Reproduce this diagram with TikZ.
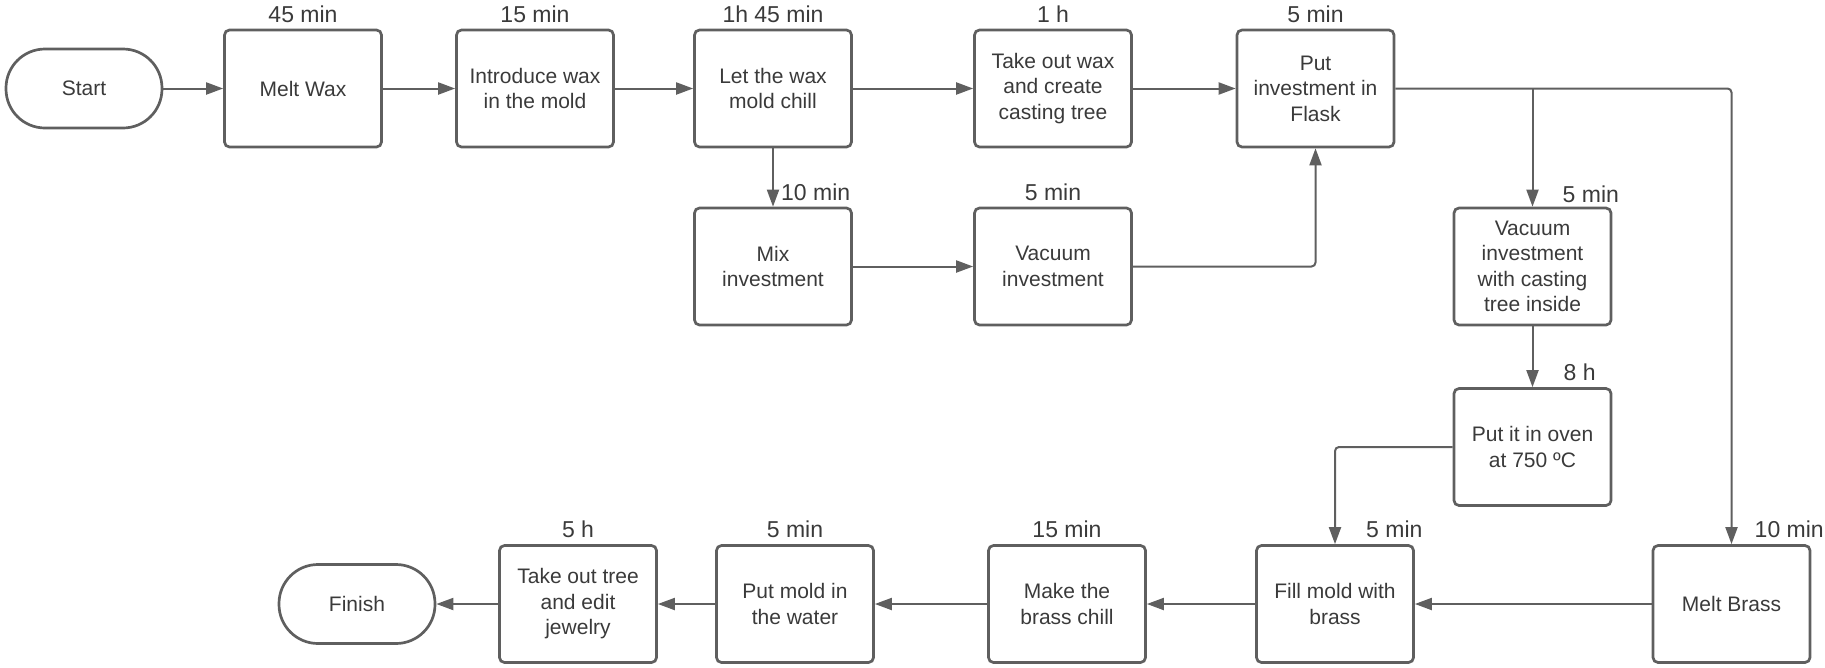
\documentclass[tikz,border=0pt]{standalone}
\usepackage{fontspec}
\setmainfont{Liberation Sans}
\usetikzlibrary{arrows.meta,positioning,calc}
\definecolor{lgray}{RGB}{95,95,95}
\definecolor{tgray}{RGB}{58,58,58}

\begin{document}
\begin{tikzpicture}[
  x=1pt, y=-1pt,
  >={Triangle[length=17pt,width=12pt]},
  every node/.style={align=center},
  base/.style   = {draw=lgray, line width=2.7pt, rounded corners=5pt, text=tgray,
                   inner sep=2pt, font=\fontsize{21}{25.5}\selectfont},
  procnd/.style = {base, minimum width=157pt, minimum height=117pt},
  termnd/.style = {base, rounded corners=39pt, minimum width=156pt, minimum height=79pt},
  tlab/.style   = {text=tgray, inner sep=1pt, font=\fontsize{23}{27}\selectfont},
  conn/.style   = {draw=lgray, line width=2pt, ->, rounded corners=4pt}
]
\useasboundingbox (0,0) rectangle (1825,667);

% top row
\node[termnd] (start) at (84, 88.5) {Start};
\node[procnd] (melt) at (303, 88.5) {Melt Wax};
\node[procnd] (intro) at (535, 88.5) {Introduce wax\\in the mold};
\node[procnd] (chill) at (773, 88.5) {Let the wax\\mold chill};
\node[procnd] (takewax) at (1053, 88.5) {Take out wax\\and create\\casting tree};
\node[procnd] (flask) at (1315.5, 88.5) {Put\\investment in\\Flask};

% investment row
\node[procnd] (mix) at (773, 266.5) {Mix\\investment};
\node[procnd] (vacinv) at (1053, 266.5) {Vacuum\\investment};

% right column
\node[procnd] (vaccast) at (1532.5, 266.5) {Vacuum\\investment\\with casting\\tree inside};
\node[procnd] (oven) at (1532.5, 447) {Put it in oven\\at 750 ºC};

% bottom row
\node[procnd] (meltbrass) at (1731.5, 604) {Melt Brass};
\node[procnd] (fill) at (1335, 604) {Fill mold with\\brass};
\node[procnd] (brasschill) at (1067, 604) {Make the\\brass chill};
\node[procnd] (water) at (795, 604) {Put mold in\\the water};
\node[procnd] (taketree) at (578, 604) {Take out tree\\and edit\\jewelry};
\node[termnd] (finish) at (357, 604) {Finish};

% times
\node[tlab, above=5pt of melt] (meltT) {45 min};
\node[tlab, above=5pt of intro] (introT) {15 min};
\node[tlab, above=5pt of chill] (chillT) {1h 45 min};
\node[tlab, above=5pt of takewax] (takewaxT) {1 h};
\node[tlab, above=5pt of flask] (flaskT) {5 min};
\node[tlab, anchor=south west] (mixT) at ([xshift=7pt, yshift=5pt]mix.north) {10 min};
\node[tlab, above=5pt of vacinv] (vacinvT) {5 min};
\node[tlab, anchor=south west] (vaccastT) at ([xshift=29pt, yshift=3pt]vaccast.north) {5 min};
\node[tlab, anchor=south west] (ovenT) at ([xshift=30pt, yshift=5pt]oven.north) {8 h};
\node[tlab, anchor=south west] (fillT) at ([xshift=30pt, yshift=5pt]fill.north) {5 min};
\node[tlab, anchor=south west] (meltbrassT) at ([xshift=22pt, yshift=5pt]meltbrass.north) {10 min};
\node[tlab, above=5pt of brasschill] (brasschillT) {15 min};
\node[tlab, above=5pt of water] (waterT) {5 min};
\node[tlab, above=5pt of taketree] (taketreeT) {5 h};

% connectors
\draw[conn] (start) -- (melt);
\draw[conn] (melt) -- (intro);
\draw[conn] (intro) -- (chill);
\draw[conn] (chill) -- (takewax);
\draw[conn] (takewax) -- (flask);
\draw[conn] (chill) -- (mix);
\draw[conn] (mix) -- (vacinv);
\draw[conn] (vacinv.east) -| (flask.south);
\coordinate (flaskSplit) at (vaccast.north |- flask.east);
\draw[conn] (flask.east) -| (meltbrass.north);
\draw[conn] (flaskSplit) -- (vaccast.north);
\draw[conn] (vaccast) -- (oven);
\draw[conn] (oven.west) -| (fill.north);
\draw[conn] (meltbrass) -- (fill);
\draw[conn] (fill) -- (brasschill);
\draw[conn] (brasschill) -- (water);
\draw[conn] (water) -- (taketree);
\draw[conn] (taketree) -- (finish);
\end{tikzpicture}
\end{document}
